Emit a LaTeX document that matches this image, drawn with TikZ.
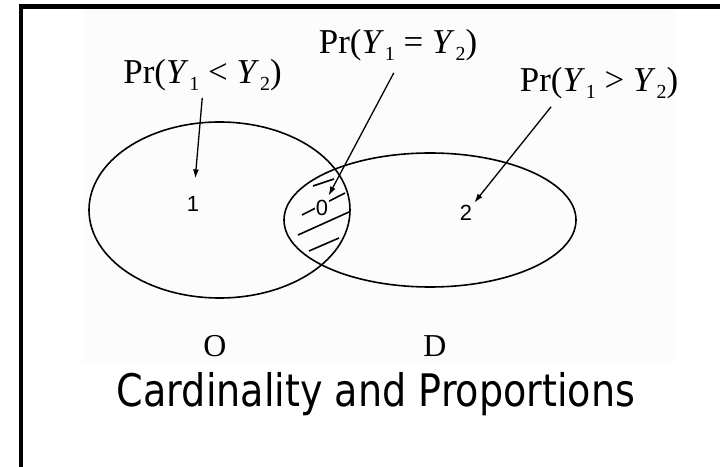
\documentclass[tikz,border=0pt]{standalone}
\usepackage{fontspec}
\setmainfont{Liberation Serif}
\newfontfamily\numfont{Liberation Sans}
\newfontfamily\titlefont[FakeStretch=0.85]{DejaVu Sans}
\usetikzlibrary{arrows.meta,positioning,shapes.geometric}
\definecolor{paper}{gray}{0.99}
\newcommand{\ysub}[1]{\textit{Y}\kern1pt\raisebox{-7pt}{\fontsize{20}{20}\selectfont#1}}
\tikzset{
  venn/.style={draw,ellipse,line width=1.6pt,inner sep=0pt},
  prob/.style={anchor=base,font=\fontsize{35}{40}\selectfont},
  num/.style={font=\numfont\fontsize{22}{24}\selectfont,inner sep=1pt},
  setname/.style={anchor=base,font=\fontsize{32}{34}\selectfont},
  arr/.style={-{Latex[length=9pt,width=6pt]},line width=1.3pt},
  hatch/.style={line width=1.6pt}
}

\begin{document}
\begin{tikzpicture}[x=1bp,y=-1bp]
\fill[white] (0,0) rectangle (720,467);
\useasboundingbox (0,0) rectangle (720,467);
\fill[paper] (83,9) rectangle (675,363);
\draw[line width=4.5pt] (21,467) -- (21,6.5) -- (720,6.5);
\node[venn,minimum width=261bp,minimum height=176bp] (ellO) at (219.5,210) {};
\node[venn,minimum width=292bp,minimum height=134bp] (ellD) at (430,220) {};
\draw[hatch] (313,186) -- (334,179);
\draw[hatch] (302,215) -- (345,193);
\draw[hatch] (298,235) -- (349,212);
\draw[hatch] (309,251) -- (339,238);
\node[num] (n1) at (193,204) {1};
\node[num,fill=paper] (n0) at (322,208) {0};
\node[num] (n2) at (466,213) {2};
\node[prob] (plt) at (202.5,84) {Pr(\ysub{1} < \ysub{2})};
\node[prob] (peq) at (398,54) {Pr(\ysub{1} = \ysub{2})};
\node[prob] (pgt) at (599,92) {Pr(\ysub{1} > \ysub{2})};
\draw[arr,shorten <=3pt,shorten >=17pt] (plt.south) -- (n1);
\draw[arr,shorten <=9pt,shorten >=4pt] (peq.south) -- (n0);
\draw[arr,shorten <=5pt,shorten >=2pt] ([xshift=-45pt]pgt.south) -- (n2);
\node[setname] (labO) at (215,357) {O};
\node[setname] (labD) at (435,357) {D};
\node[anchor=base,font=\titlefont\fontsize{45}{50}\selectfont] (title) at (376,406) {Cardinality and Proportions};
\end{tikzpicture}
\end{document}
